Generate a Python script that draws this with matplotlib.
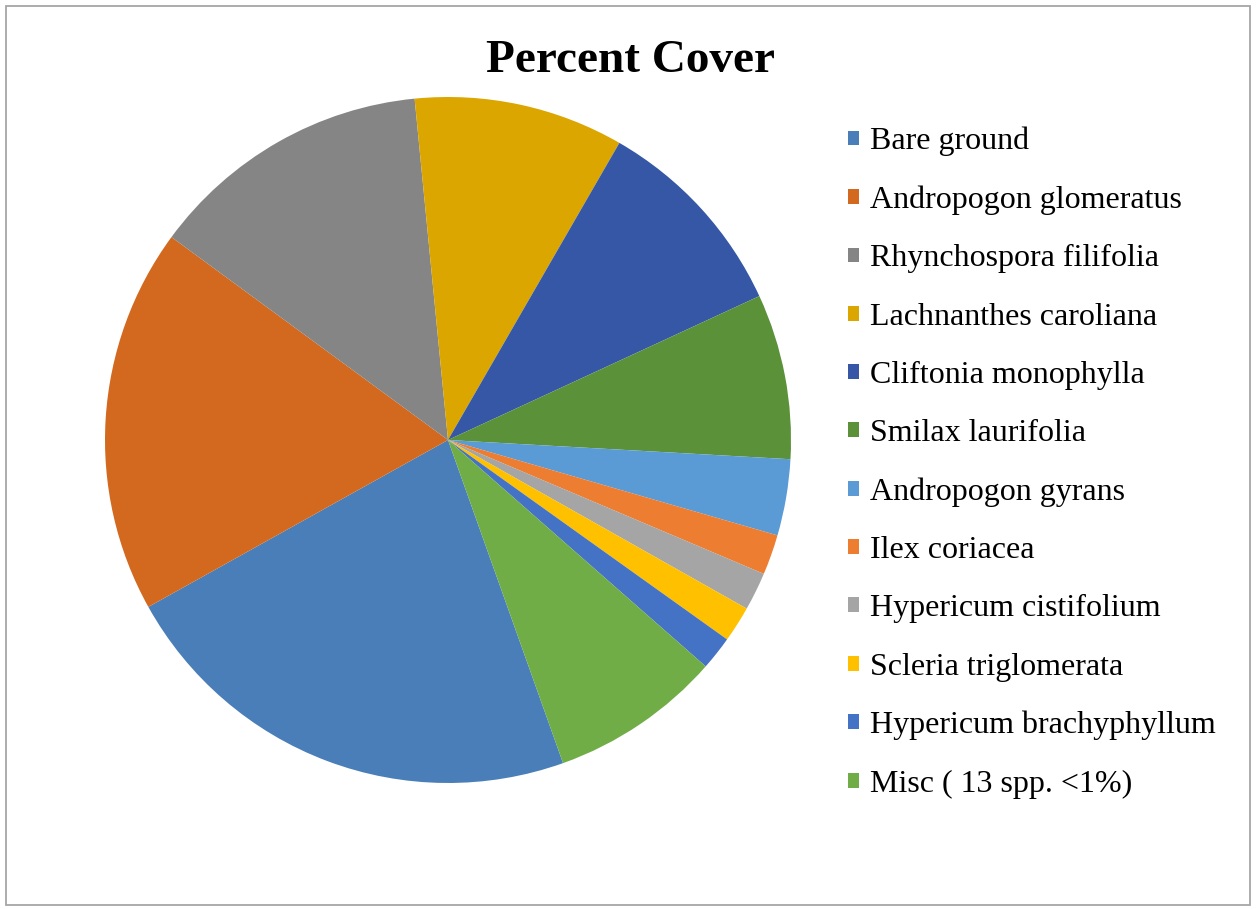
import matplotlib
matplotlib.use("Agg")
import matplotlib.pyplot as plt
from matplotlib.patches import Rectangle, Patch

# Percent cover by species (%)
species = [
    "Bare ground",
    "Andropogon glomeratus",
    "Rhynchospora filifolia",
    "Lachnanthes caroliana",
    "Cliftonia monophylla",
    "Smilax laurifolia",
    "Andropogon gyrans",
    "Ilex coriacea",
    "Hypericum cistifolium",
    "Scleria triglomerata",
    "Hypericum brachyphyllum",
    "Misc ( 13 spp. <1%)",
]
cover = [22.4, 18.2, 13.4, 9.9, 9.8, 7.8, 3.6, 1.9, 1.8, 1.7, 1.6, 8.1]
colors = [
    "#4A7EB8", "#D2691F", "#858585", "#DCA600", "#3557A6", "#5B9239",
    "#5B9BD5", "#ED7D31", "#A5A5A5", "#FFC000", "#4472C4", "#70AD47",
]

W, H = 1256, 909
fig = plt.figure(figsize=(W / 100, H / 100), dpi=100)
fig.patch.set_facecolor("white")

# outer chart frame
fig.patches.append(Rectangle((6 / W, 4 / H), 1244 / W, 899 / H,
                             transform=fig.transFigure, fill=False,
                             edgecolor="#A6A6A6", linewidth=1.3))

# pie centred at (448, 440) px with radius 343 px
cx, cy, r = 448, 440, 343
ax = fig.add_axes([(cx - r) / W, (H - cy - r) / H, 2 * r / W, 2 * r / H])
wedges, _ = ax.pie(cover, colors=colors, startangle=-70.4, counterclock=False,
                   radius=1.0, wedgeprops=dict(linewidth=0))
ax.set_xlim(-1, 1)
ax.set_ylim(-1, 1)
ax.set_aspect("equal")
ax.axis("off")

fig.text(630 / W, 1 - 61 / H, "Percent Cover", ha="center", va="center",
         fontsize=34, fontweight="bold", family="Liberation Serif")

handles = [Patch(facecolor=c, edgecolor="none") for c in colors]
leg = fig.legend(handles, species, loc="upper left",
                 bbox_to_anchor=(848 / W, 1 - 127 / H),
                 prop=dict(family="Liberation Serif", size=23),
                 frameon=False, handlelength=0.34, handleheight=0.34,
                 handletextpad=0.36, labelspacing=0.915, borderaxespad=0,
                 borderpad=0)

fig.savefig("out.png", dpi=100, facecolor="white")
